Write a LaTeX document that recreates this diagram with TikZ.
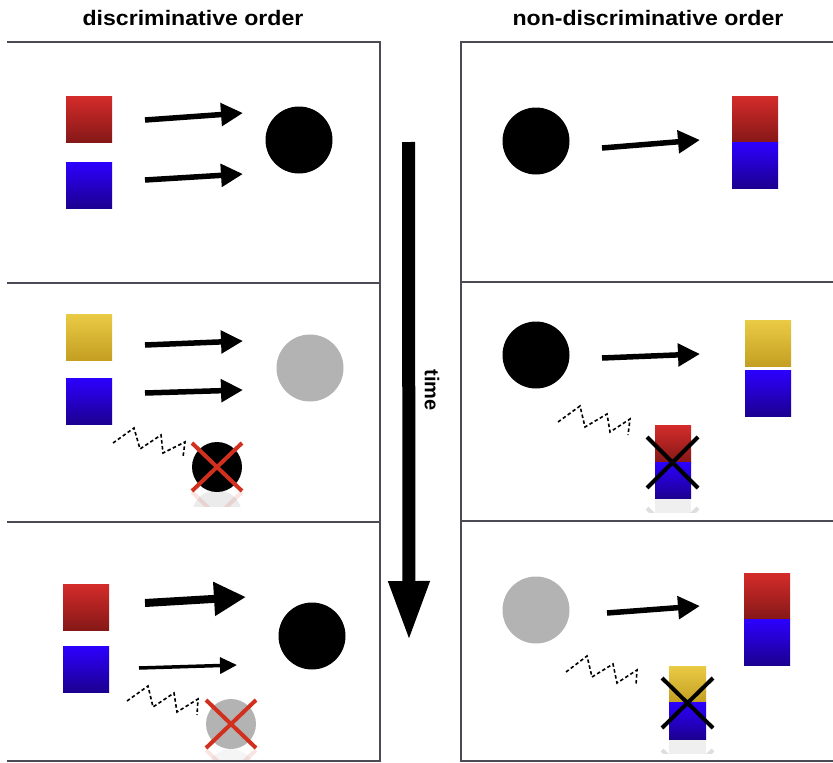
\documentclass[tikz,border=0pt]{standalone}
\usepackage{fontspec}
\setmainfont{Liberation Sans}
\usetikzlibrary{arrows.meta}
\definecolor{framec}{HTML}{4B4B55}
\definecolor{redtop}{HTML}{D42C2A}
\definecolor{redbot}{HTML}{861818}
\definecolor{bluetop}{HTML}{2C00FF}
\definecolor{bluebot}{HTML}{1C0090}
\definecolor{yeltop}{HTML}{EACB45}
\definecolor{yelbot}{HTML}{C49F22}
\definecolor{xred}{HTML}{D2301F}
\definecolor{greyc}{HTML}{B3B3B3}
\tikzset{
  frame/.style={draw=framec, line width=2.6pt},
  sq/.style={rectangle, inner sep=0pt, minimum width=46pt, minimum height=46pt},
  redsq/.style={sq, top color=redtop, bottom color=redbot},
  bluesq/.style={sq, top color=bluetop, bottom color=bluebot},
  yelsq/.style={sq, top color=yeltop, bottom color=yelbot},
  bigdot/.style={circle, inner sep=0pt, minimum size=67pt},
  smalldot/.style={circle, inner sep=0pt, minimum size=50pt},
  arr/.style={line width=5.5pt, -{Triangle[length=22pt,width=22pt]}},
  thickarr/.style={line width=8pt, -{Triangle[length=32pt,width=32pt]}},
  thinarr/.style={line width=3.5pt, -{Triangle[length=17pt,width=16pt]}},
  zig/.style={line width=1.6pt, dash pattern=on 3.5pt off 2.5pt},
  crossr/.style={xred, line width=4pt},
  crossk/.style={black, line width=4pt},
  refl/.style={opacity=0.13},
  title/.style={font=\bfseries\fontsize{21}{25}\selectfont},
}
\begin{document}
\begin{tikzpicture}[x=1pt,y=-1pt]
\useasboundingbox (0,0) rectangle (833,763);
% titles
\node[title] (t1) at (193,18) {\scalebox{1.1}[1]{discriminative order}};
\node[title] (t2) at (648,18) {\scalebox{1.1}[1]{non-discriminative order}};
% frames
\draw[frame] (7,42) -- (380,42) -- (380,761) -- (7,761);
\draw[frame] (7,283) -- (380,283);
\draw[frame] (7,522) -- (380,522);
\draw[frame] (833,42) -- (461,42) -- (461,761) -- (833,761);
\draw[frame] (461,282) -- (833,282);
\draw[frame] (461,521) -- (833,521);
% time arrow
\coordinate (ts) at (408.5,142);
\coordinate (te) at (409,641);
\draw[line width=13pt, -{Triangle[length=60pt,width=38pt]}] (ts) -- (te);
\node[font=\bfseries\fontsize{20}{24}\selectfont, rotate=-90] (time) at (432,390) {time};

% ===== left panel 1
\node[redsq] (L1r) at (89,119) {};
\node[bluesq] (L1b) at (89,185) {};
\node[bigdot, fill=black] (L1c) at (299,140) {};
\coordinate (L1a1s) at (145,120); \coordinate (L1a1e) at (243,113);
\coordinate (L1a2s) at (145,180); \coordinate (L1a2e) at (243,174);
\draw[arr] (L1a1s) -- (L1a1e);
\draw[arr] (L1a2s) -- (L1a2e);

% ===== left panel 2
\node[yelsq] (L2y) at (89,337) {};
\node[bluesq] (L2b) at (89,401) {};
\node[bigdot, fill=greyc] (L2c) at (310,368) {};
\coordinate (L2a1s) at (145,345); \coordinate (L2a1e) at (243,341);
\coordinate (L2a2s) at (145,393); \coordinate (L2a2e) at (243,390);
\draw[arr] (L2a1s) -- (L2a1e);
\draw[arr] (L2a2s) -- (L2a2e);
\draw[zig] (113,443) -- (134,428) -- (140,449) -- (161,435) -- (163,453) -- (185,442) -- (183,457);
\begin{scope}
  \clip (185,491) rectangle (250,506);
  \begin{scope}[refl, yshift=-982pt, yscale=-1]
    \fill[black!60] (217,467) circle (25);
    \draw[crossr] (192,442) -- (242,490) (242,442) -- (192,490);
  \end{scope}
\end{scope}
\node[smalldot, fill=black] (L2x) at (217,467) {};
\draw[crossr] (L2x.center) ++(-25,-24) -- ++(50,48) (L2x.center) ++(25,-24) -- ++(-50,48);

% ===== left panel 3
\node[redsq] (L3r) at (86,607) {};
\node[bluesq] (L3b) at (86,669) {};
\node[bigdot, fill=black] (L3c) at (312,636) {};
\coordinate (L3a1s) at (145,603); \coordinate (L3a1e) at (246,597);
\coordinate (L3a2s) at (139,668); \coordinate (L3a2e) at (237,665);
\draw[thickarr] (L3a1s) -- (L3a1e);
\draw[thinarr] (L3a2s) -- (L3a2e);
\draw[zig] (127,701) -- (148,686) -- (153,707) -- (174,693) -- (177,712) -- (198,699) -- (197,715);
\begin{scope}
  \clip (198,749) rectangle (264,759);
  \begin{scope}[refl, yshift=-1498pt, yscale=-1]
    \fill[greyc] (231,724) circle (25);
    \draw[crossr] (206,700) -- (256,748) (256,700) -- (206,748);
  \end{scope}
\end{scope}
\node[smalldot, fill=greyc] (L3x) at (231,724) {};
\draw[crossr] (L3x.center) ++(-25,-24) -- ++(50,48) (L3x.center) ++(25,-24) -- ++(-50,48);

% ===== right panel 1
\node[bigdot, fill=black] (R1c) at (536,141) {};
\node[redsq] (R1r) at (755,119) {};
\node[bluesq] (R1b) at (755,165) {};
\coordinate (R1as) at (602,148); \coordinate (R1ae) at (700,140);
\draw[arr] (R1as) -- (R1ae);

% ===== right panel 2
\node[bigdot, fill=black] (R2c) at (536,355) {};
\node[yelsq] (R2y) at (768,343) {};
\node[bluesq] (R2b) at (768,393) {};
\coordinate (R2as) at (602,358); \coordinate (R2ae) at (700,354);
\draw[arr] (R2as) -- (R2ae);
\draw[zig] (558,422) -- (580,406) -- (585,427) -- (607,414) -- (610,432) -- (630,419) -- (628,435);
\begin{scope}
  \clip (640,498) rectangle (705,512);
  \begin{scope}[refl, yshift=-996pt, yscale=-1]
    \fill[black!50] (655,462) rectangle (691,498);
    \draw[crossk] (647,437) -- (698,488) (698,437) -- (647,488);
  \end{scope}
\end{scope}
\node[sq, minimum width=36pt, minimum height=37pt, top color=redtop, bottom color=redbot] (R2sr) at (673,443.5) {};
\node[sq, minimum width=36pt, minimum height=36pt, top color=bluetop, bottom color=bluebot] (R2sb) at (673,480) {};
\draw[crossk] (647,437) -- (698,488) (698,437) -- (647,488);

% ===== right panel 3
\node[bigdot, fill=greyc] (R3c) at (536,610) {};
\node[redsq] (R3r) at (767,596) {};
\node[bluesq] (R3b) at (767,642) {};
\coordinate (R3as) at (607,613); \coordinate (R3ae) at (700,606);
\draw[arr] (R3as) -- (R3ae);
\draw[zig] (566,672) -- (587,656) -- (592,677) -- (613,664) -- (617,683) -- (637,670) -- (636,685);
\begin{scope}
  \clip (655,739) rectangle (720,753);
  \begin{scope}[refl, yshift=-1478pt, yscale=-1]
    \fill[black!50] (669,702) rectangle (706,739);
    \draw[crossk] (662,678) -- (713,728) (713,678) -- (662,728);
  \end{scope}
\end{scope}
\node[sq, minimum width=37pt, minimum height=36pt, top color=yeltop, bottom color=yelbot] (R3sy) at (687.5,684) {};
\node[sq, minimum width=37pt, minimum height=37pt, top color=bluetop, bottom color=bluebot] (R3sb) at (687.5,720.5) {};
\draw[crossk] (662,678) -- (713,728) (713,678) -- (662,728);
\end{tikzpicture}
\end{document}
